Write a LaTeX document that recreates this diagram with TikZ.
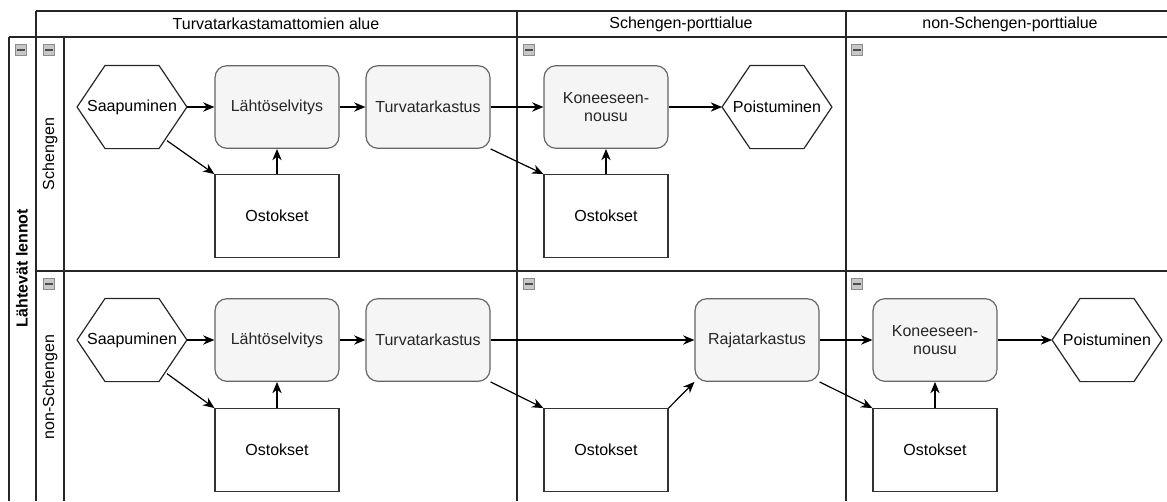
\documentclass[tikz,border=0pt]{standalone}
\usepackage{fontspec}
\setmainfont{Liberation Sans}
\usetikzlibrary{arrows.meta}

\begin{document}
\begin{tikzpicture}[x=0.75pt,y=-0.75pt,
    tasknode/.style={rectangle, rounded corners=9pt, draw=black!60, fill=black!4, line width=0.9pt, minimum width=93pt, minimum height=62pt, inner sep=2pt, align=center, font=\fontsize{12}{14}\selectfont, text=black!85},
    shopnode/.style={rectangle, draw=black!80, fill=white, line width=0.9pt, minimum width=93pt, minimum height=62pt, inner sep=2pt, font=\fontsize{12}{14}\selectfont},
    hexnode/.style={rectangle, minimum width=82pt, minimum height=62pt, inner sep=0pt, font=\fontsize{12}{14}\selectfont},
    hexline/.style={draw=black!85, line width=0.9pt, line join=miter},
    lanetext/.style={font=\fontsize{12}{14}\selectfont, inner sep=0pt},
    minusbox/.style={rectangle, draw=black!45, fill=black!22, minimum size=8.5pt, inner sep=0pt, path picture={\draw[line width=1.2pt, black!70] ([xshift=-3pt]path picture bounding box.center) -- ([xshift=3pt]path picture bounding box.center);}},
    poolline/.style={line width=0.9pt, black!85},
    flow/.style={-{Stealth[length=8.5pt,width=7pt]}, line width=0.9pt}]
    \useasboundingbox (0,0) rectangle (1167,501);

    %Pool and lanes
    \draw[poolline] (36,11) -- (1167,11);
    \draw[poolline] (9,37) -- (1167,37);
    \draw[poolline] (36,271) -- (1167,271);
    \draw[poolline] (9,37) -- (9,501);
    \draw[poolline] (36,11) -- (36,501);
    \draw[poolline] (64,37) -- (64,501);
    \draw[poolline] (517,11) -- (517,501);
    \draw[poolline] (846,11) -- (846,501);

    \node[lanetext]                 (colA)  at (276,24)  {Turvatarkastamattomien alue};
    \node[lanetext]                 (colB)  at (681,24)  {Schengen-porttialue};
    \node[lanetext]                 (colC)  at (1010,24) {non-Schengen-porttialue};
    \node[lanetext, rotate=90, font=\fontsize{12}{14}\selectfont\bfseries] (pool) at (22,268) {Lähtevät lennot};
    \node[lanetext, rotate=90]      (laneA) at (50,154)  {Schengen};
    \node[lanetext, rotate=90]      (laneB) at (50,387)  {non-Schengen};

    \node[minusbox] (m0) at (21,50)  {};
    \node[minusbox] (m1) at (49,50)  {};
    \node[minusbox] (m2) at (529,50) {};
    \node[minusbox] (m3) at (857,50) {};
    \node[minusbox] (m4) at (49,284) {};
    \node[minusbox] (m5) at (529,284) {};
    \node[minusbox] (m6) at (857,284) {};

    %Nodes
    \node[hexnode]  (saap1)  at (132,107) {Saapuminen};
    \node[tasknode] (lahto1) at (277,107) {Lähtöselvitys};
    \node[tasknode] (turva1) at (428,107) {Turvatarkastus};
    \node[shopnode] (ost1)   at (277,216) {Ostokset};
    \node[tasknode] (kone1)  at (606,107) {Koneeseen-\\nousu};
    \node[hexnode]  (pois1)  at (777,107) {Poistuminen};
    \node[shopnode] (ost2)   at (606,216) {Ostokset};

    \node[hexnode]  (saap2)  at (132,340) {Saapuminen};
    \node[tasknode] (lahto2) at (277,340) {Lähtöselvitys};
    \node[tasknode] (turva2) at (428,340) {Turvatarkastus};
    \node[shopnode] (ost3)   at (277,450) {Ostokset};
    \node[shopnode] (ost4)   at (606,450) {Ostokset};
    \node[tasknode] (raja)   at (757,340) {Rajatarkastus};
    \node[tasknode] (kone2)  at (935,340) {Koneeseen-\\nousu};
    \node[hexnode]  (pois2)  at (1107,340) {Poistuminen};
    \node[shopnode] (ost5)   at (935,450) {Ostokset};

    % hexagon outlines
    \foreach \h in {saap1,pois1,saap2,pois2}
        \draw[hexline] (\h.west) -- ([xshift=21pt]\h.north west) -- ([xshift=-21pt]\h.north east)
            -- (\h.east) -- ([xshift=-21pt]\h.south east) -- ([xshift=21pt]\h.south west) -- cycle;

    %Lines
    \draw[flow] (saap1.east) -- (lahto1.west);
    \draw[flow] ([xshift=-15pt,yshift=6pt]saap1.south east) -- (ost1.north west);
    \draw[flow] (ost1.north) -- (lahto1.south);
    \draw[flow] (lahto1.east) -- (turva1.west);
    \draw[flow] (turva1.east) -- (kone1.west);
    \draw[flow] (turva1.south east) -- (ost2.north west);
    \draw[flow] (ost2.north) -- (kone1.south);
    \draw[flow] (kone1.east) -- (pois1.west);

    \draw[flow] (saap2.east) -- (lahto2.west);
    \draw[flow] ([xshift=-15pt,yshift=6pt]saap2.south east) -- (ost3.north west);
    \draw[flow] (ost3.north) -- (lahto2.south);
    \draw[flow] (lahto2.east) -- (turva2.west);
    \draw[flow] (turva2.east) -- (raja.west);
    \draw[flow] (turva2.south east) -- (ost4.north west);
    \draw[flow] (ost4.north east) -- (raja.south west);
    \draw[flow] (raja.east) -- (kone2.west);
    \draw[flow] (raja.south east) -- (ost5.north west);
    \draw[flow] (ost5.north) -- (kone2.south);
    \draw[flow] (kone2.east) -- (pois2.west);
\end{tikzpicture}
\end{document}
